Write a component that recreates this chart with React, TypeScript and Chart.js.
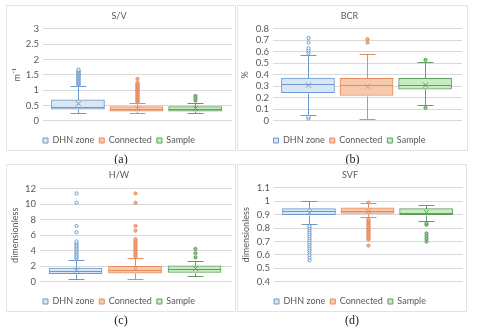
import React, { useEffect, useRef } from "react";
import { Chart, registerables } from "chart.js";

Chart.register(...registerables);

// ---------- data ----------
const groups = ["DHN zone", "Connected", "Sample"];

// S/V (m^-1)
const svLow = [0.25, 0.25, 0.26];
const svQ1 = [0.38, 0.31, 0.31];
const svMedian = [0.44, 0.37, 0.38];
const svQ3 = [0.68, 0.46, 0.46];
const svHigh = [1.12, 0.58, 0.58];
const svMean = [0.56, 0.4, 0.4];
const svOutDHN = [1.16, 1.19, 1.22, 1.25, 1.28, 1.31, 1.34, 1.37, 1.4, 1.43, 1.46, 1.49, 1.52, 1.55, 1.58, 1.61, 1.64, 1.67];
const svOutConnected = [0.61, 0.64, 0.67, 0.7, 0.73, 0.76, 0.79, 0.82, 0.85, 0.88, 0.91, 0.94, 0.97, 1.0, 1.03, 1.06, 1.09, 1.12, 1.15, 1.18, 1.21, 1.25, 1.37];
const svOutSample = [0.66, 0.73, 0.81];

// BCR (%)
const bcrLow = [0.05, 0.017, 0.137];
const bcrQ1 = [0.245, 0.22, 0.276];
const bcrMedian = [0.32, 0.31, 0.315];
const bcrQ3 = [0.372, 0.37, 0.37];
const bcrHigh = [0.573, 0.578, 0.51];
const bcrMean = [0.31, 0.3, 0.31];
const bcrOutDHN = [0.02, 0.035, 0.59, 0.61, 0.63, 0.68, 0.72];
const bcrOutConnected = [0.68, 0.71];
const bcrOutSample = [0.113, 0.53];

// H/W (dimensionless)
const hwLow = [0.4, 0.35, 0.75];
const hwQ1 = [1.05, 1.1, 1.2];
const hwMedian = [1.4, 1.5, 1.6];
const hwQ3 = [1.76, 2.0, 2.05];
const hwHigh = [2.8, 3.1, 2.7];
const hwMean = [1.5, 1.7, 1.7];
const hwOutDHN = [3.0, 3.2, 3.4, 3.6, 3.8, 4.0, 4.2, 4.4, 4.6, 4.8, 5.0, 5.2, 6.4, 7.2, 10.2, 11.4];
const hwOutConnected = [3.3, 3.5, 3.7, 3.9, 4.1, 4.3, 4.5, 4.7, 4.9, 5.1, 5.3, 5.5, 6.6, 7.2, 10.2, 11.4];
const hwOutSample = [3.15, 3.7, 4.25];

// SVF (dimensionless)
const svfLow = [0.83, 0.88, 0.85];
const svfQ1 = [0.9, 0.91, 0.9];
const svfMedian = [0.93, 0.93, 0.915];
const svfQ3 = [0.945, 0.95, 0.945];
const svfHigh = [1.0, 0.985, 0.975];
const svfMean = [0.915, 0.925, 0.915];
const svfOutDHN = [0.56, 0.58, 0.6, 0.62, 0.635, 0.65, 0.665, 0.68, 0.695, 0.71, 0.725, 0.74, 0.755, 0.77, 0.785, 0.8, 0.815];
const svfOutConnected = [0.67, 0.715, 0.725, 0.735, 0.745, 0.755, 0.765, 0.775, 0.785, 0.795, 0.805, 0.815, 0.825, 0.835, 0.845, 0.855, 0.865, 0.99];
const svfOutSample = [0.7, 0.72, 0.74, 0.76, 0.825, 0.835];

// ---------- styles ----------
const borderColors = ["#6a98cf", "#e88b5c", "#5f9e5f"];
const fillColors = ["#dae6f4", "#f7c9ad", "#c8ebc2"];
const outlierFills = ["#ffffff", "#f2b08e", "#8cc38c"];
const textColor = "#595959";
const fontFamily = "Lato, 'Open Sans', sans-serif";

type Panel = {
  title: string;
  yTitle: string;
  min: number;
  max: number;
  step: number;
  low: number[];
  q1: number[];
  median: number[];
  q3: number[];
  high: number[];
  mean: number[];
  outliers: number[][];
  caption: string;
  left: number;
  top: number;
  width: number;
  height: number;
  axisWidth: number;
  padRight: number;
  titleTop: number;
  titleBottom: number;
  padBottom: number;
  yTitlePad: number;
};

const panels: Panel[] = [
  {
    title: "S/V", yTitle: "m\u207B\u00B9", min: 0, max: 3, step: 0.5,
    low: svLow, q1: svQ1, median: svMedian, q3: svQ3, high: svHigh, mean: svMean,
    outliers: [svOutDHN, svOutConnected, svOutSample], caption: "(a)",
    left: 6, top: 5, width: 230, height: 146, axisWidth: 37, padRight: 4,
    titleTop: 6, titleBottom: 7, padBottom: 4, yTitlePad: 6,
  },
  {
    title: "BCR", yTitle: "%", min: 0, max: 0.8, step: 0.1,
    low: bcrLow, q1: bcrQ1, median: bcrMedian, q3: bcrQ3, high: bcrHigh, mean: bcrMean,
    outliers: [bcrOutDHN, bcrOutConnected, bcrOutSample], caption: "(b)",
    left: 237, top: 5, width: 231, height: 146, axisWidth: 36, padRight: 6,
    titleTop: 6, titleBottom: 7, padBottom: 4, yTitlePad: 3,
  },
  {
    title: "H/W", yTitle: "dimensionless", min: 0, max: 12, step: 2,
    low: hwLow, q1: hwQ1, median: hwMedian, q3: hwQ3, high: hwHigh, mean: hwMean,
    outliers: [hwOutDHN, hwOutConnected, hwOutSample], caption: "(c)",
    left: 6, top: 164, width: 230, height: 148, axisWidth: 34, padRight: 4,
    titleTop: 6, titleBottom: 8, padBottom: 4, yTitlePad: 4,
  },
  {
    title: "SVF", yTitle: "dimensionless", min: 0.4, max: 1.1, step: 0.1,
    low: svfLow, q1: svfQ1, median: svfMedian, q3: svfQ3, high: svfHigh, mean: svfMean,
    outliers: [svfOutDHN, svfOutConnected, svfOutSample], caption: "(d)",
    left: 237, top: 164, width: 230, height: 148, axisWidth: 37, padRight: 4,
    titleTop: 6, titleBottom: 7, padBottom: 4, yTitlePad: 4,
  },
];

const canvasExtra = 8;
const boxThickness = 53;

function makeBoxPlugin(p: Panel) {
  return {
    id: "boxExtras",
    afterDatasetsDraw(chart: any) {
      const ctx = chart.ctx as CanvasRenderingContext2D;
      const y = chart.scales.y;
      ctx.save();
      for (let i = 0; i < groups.length; i++) {
        const el = chart.getDatasetMeta(i).data[0];
        if (!el) continue;
        const cx = el.x;
        const w = el.width;
        const col = borderColors[i];
        ctx.strokeStyle = col;
        ctx.lineWidth = 1;
        const px = (v: number) => Math.round(y.getPixelForValue(v)) + 0.5;
        const cxx = Math.round(cx) + 0.5;
        const cap = w * 0.15;
        ctx.beginPath();
        ctx.moveTo(cxx, px(p.q3[i]));
        ctx.lineTo(cxx, px(p.high[i]));
        ctx.moveTo(cxx, px(p.q1[i]));
        ctx.lineTo(cxx, px(p.low[i]));
        ctx.moveTo(cxx - cap, px(p.high[i]));
        ctx.lineTo(cxx + cap, px(p.high[i]));
        ctx.moveTo(cxx - cap, px(p.low[i]));
        ctx.lineTo(cxx + cap, px(p.low[i]));
        ctx.moveTo(cx - w / 2, px(p.median[i]));
        ctx.lineTo(cx + w / 2, px(p.median[i]));
        ctx.stroke();
        const my = y.getPixelForValue(p.mean[i]);
        const m = 2.5;
        ctx.beginPath();
        ctx.moveTo(cxx - m, my - m);
        ctx.lineTo(cxx + m, my + m);
        ctx.moveTo(cxx - m, my + m);
        ctx.lineTo(cxx + m, my - m);
        ctx.stroke();
        for (const v of p.outliers[i]) {
          const oy = y.getPixelForValue(v);
          ctx.beginPath();
          ctx.arc(cxx, oy, 1.6, 0, Math.PI * 2);
          ctx.fillStyle = outlierFills[i];
          ctx.fill();
          ctx.stroke();
        }
      }
      ctx.restore();
    },
  };
}

function PanelChart({ p }: { p: Panel }) {
  const ref = useRef<HTMLCanvasElement | null>(null);
  useEffect(() => {
    if (!ref.current) return;
    const chart = new Chart(ref.current, {
      type: "bar",
      data: {
        datasets: groups.map((g, i) => ({
          label: g,
          data: [{ x: i, y: [p.q1[i], p.q3[i]] }] as any,
          backgroundColor: fillColors[i],
          borderColor: borderColors[i],
          borderWidth: 1,
          borderSkipped: false,
          grouped: false,
          barThickness: boxThickness,
        })),
      },
      options: {
        responsive: false,
        animation: false,
        events: [],
        layout: { padding: { left: 0, right: p.padRight, top: 0, bottom: p.padBottom } },
        scales: {
          x: { type: "linear", min: -0.597, max: 2.63, display: false, offset: false },
          y: {
            min: p.min,
            max: p.max,
            afterFit: (s: any) => {
              s.width = p.axisWidth;
            },
            ticks: {
              stepSize: p.step,
              autoSkip: false,
              padding: 4,
              color: textColor,
              font: { family: fontFamily, size: 9.5, lineHeight: 0.8 },
              callback: (v: any) => String(+Number(v).toFixed(2)),
            },
            grid: { color: "#d9d9d9", drawTicks: false, lineWidth: 1 },
            border: { display: false },
            title: {
              display: true,
              text: p.yTitle,
              color: textColor,
              font: { family: fontFamily, size: 9 },
              padding: { top: p.yTitlePad, bottom: 0 },
            },
          },
        },
        plugins: {
          title: {
            display: true,
            text: p.title,
            color: textColor,
            font: { family: fontFamily, size: 9, weight: "normal" },
            padding: { top: p.titleTop, bottom: p.titleBottom },
          },
          legend: {
            position: "bottom",
            title: { display: true, text: "", font: { size: 1 }, padding: { top: 0, bottom: 9 } },
            labels: {
              boxWidth: 5,
              boxHeight: 5,
              padding: 5,
              color: textColor,
              font: { family: fontFamily, size: 9 },
            },
          },
          tooltip: { enabled: false },
        },
      } as any,
      plugins: [makeBoxPlugin(p)],
    });
    return () => chart.destroy();
  }, [p]);
  return (
    <>
      <div
        style={{
          position: "absolute",
          left: p.left,
          top: p.top,
          width: p.width - 2,
          height: p.height - 2,
          border: "1px solid #e3e3e3",
        }}
      />
      <canvas
        ref={ref}
        width={p.width}
        height={p.height + canvasExtra}
        style={{ position: "absolute", left: p.left, top: p.top, width: p.width, height: p.height + canvasExtra }}
      />
      <div
        style={{
          position: "absolute",
          left: p.left,
          top: p.top + p.height + 1,
          width: p.width,
          textAlign: "center",
          fontFamily: "'Liberation Serif', 'DejaVu Serif', serif",
          fontSize: 12,
          lineHeight: "14px",
          color: "#222",
        }}
      >
        {p.caption}
      </div>
    </>
  );
}

export default function App() {
  return (
    <div style={{ position: "absolute", left: 0, top: 0, width: 480, height: 331, background: "#fff", overflow: "hidden" }}>
      {panels.map((p) => (
        <PanelChart key={p.caption} p={p} />
      ))}
    </div>
  );
}
